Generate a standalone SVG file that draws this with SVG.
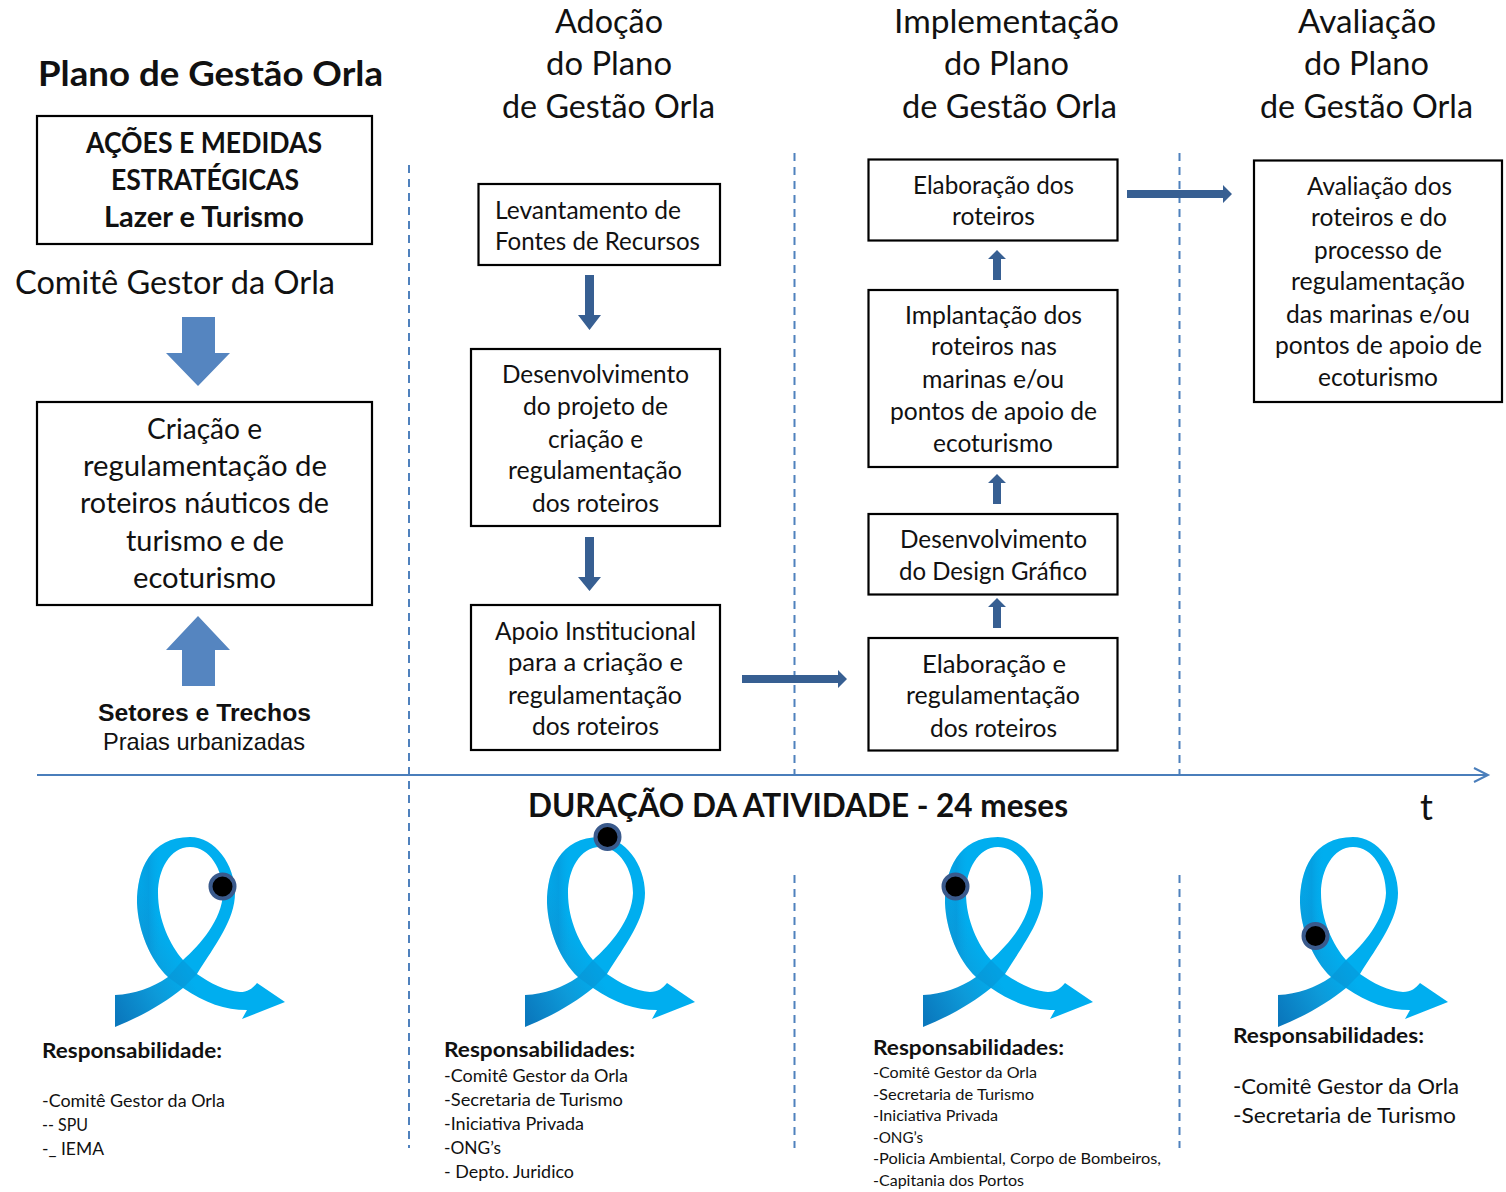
<svg xmlns="http://www.w3.org/2000/svg" width="1506" height="1192" viewBox="0 0 1506 1192">
<style>
text{font-family:Lato,"Liberation Sans",sans-serif;fill:#111}
.h{font-size:32px}
.b{font-size:28px;font-weight:700}
.m{font-size:28px}
.n{font-size:25px;transform:translateY(1px)}
.rb{font-size:21.500px;font-weight:700}
.r{font-size:17.500px}
.rs{font-size:15.500px;transform:translateY(1px)}
.rl{font-size:21.500px}
.box{fill:#fff;stroke:#000;stroke-width:2.2}
.ax{fill:#5585c0}
.ar{fill:#375f92}
.dash{fill:none;stroke:#4f81bd;stroke-width:2;stroke-dasharray:8 6}
.dot{fill:#000;stroke:#3a5a8c;stroke-width:4}
text.ar1{font-family:"Liberation Sans",Arial,sans-serif}
</style>
<defs>
<linearGradient id="rg" gradientUnits="userSpaceOnUse" x1="115" y1="1015" x2="190" y2="975">
<stop offset="0" stop-color="#0a78bd"/><stop offset="0.55" stop-color="#0d9ad9"/><stop offset="1" stop-color="#00aeef"/>
</linearGradient>
<linearGradient id="rs" gradientUnits="userSpaceOnUse" x1="137" y1="900" x2="160" y2="900">
<stop offset="0" stop-color="#0b8fd0" stop-opacity=".2"/><stop offset="0.5" stop-color="#0b88cc" stop-opacity=".4"/><stop offset="1" stop-color="#0ba0e0" stop-opacity="0"/>
</linearGradient>
<g id="ribbon">
<path fill="url(#rg)" fill-rule="evenodd" d="M115,995C135,994 152,988 168,977C150,960 138,930 137,903C137,870 150,837 190,837C215,837 235,865 235,893C235,920 215,945 197,974C210,983 225,991 240,992C248,992 253,988 257,983L285,1002L242,1019L247,1010C225,1010 205,1003 183,988C165,1003 140,1017 115,1027ZM183,960C200,945 222,920 223,893C223,870 210,847 190,847C170,847 158,870 158,893C158,920 170,945 183,960Z"/>
<path fill="url(#rs)" d="M137,903C137,870 150,845 175,840L178,850C165,855 158,875 158,893C158,920 170,945 183,960L168,977C150,960 138,930 137,903Z"/>
<path fill="#0b80c4" fill-opacity=".3" d="M168,977L183,960L197,974L183,988Z"/>
</g>
</defs>
<g id="connectors">
<path class="dash" d="M409,165V1148"/>
<path class="dash" d="M794.500,153V775M794.500,875V1148"/>
<path class="dash" d="M1179.500,153V775M1179.500,875V1148"/>
<path fill="none" stroke="#4a7ebb" stroke-width="2" d="M37,775H1488M1474,768L1488,775L1474,782"/>
<path class="ax" d="M182,317H215V353H230L198,386L166,353H182Z"/>
<path class="ax" d="M198,616L230,650H215V686H182V650H166Z"/>
<path class="ar" d="M585,275H594V315H601L589.500,330L578,315H585Z"/>
<path class="ar" d="M585,537H594V577H601L589.500,591L578,577H585Z"/>
<path class="ar" d="M742,675H838V670L847,679L838,688V683H742Z"/>
<path class="ar" d="M1127,190H1223V185L1232,194L1223,203V198H1127Z"/>
<path class="ar" d="M997,598L1006,607H1001V628H993V607H988Z"/>
<path class="ar" d="M997,474L1006,483H1001V504H993V483H988Z"/>
<path class="ar" d="M997,250L1006,259H1001V280H993V259H988Z"/>
</g>
<g id="titulo"><text class="b" style="font-size:35px" x="38" y="86" textLength="345" lengthAdjust="spacingAndGlyphs">Plano de Gestão Orla</text></g>
<g id="h-adocao">
<text class="h" x="555" y="33" textLength="108" lengthAdjust="spacingAndGlyphs">Adoção</text>
<text class="h" x="546" y="75" textLength="126" lengthAdjust="spacingAndGlyphs">do Plano</text>
<text class="h" x="502" y="118" textLength="213" lengthAdjust="spacingAndGlyphs">de Gestão Orla</text>
</g>
<g id="h-impl">
<text class="h" x="894" y="33" textLength="225" lengthAdjust="spacingAndGlyphs">Implementação</text>
<text class="h" x="944" y="75" textLength="125" lengthAdjust="spacingAndGlyphs">do Plano</text>
<text class="h" x="902" y="118" textLength="215" lengthAdjust="spacingAndGlyphs">de Gestão Orla</text>
</g>
<g id="h-aval">
<text class="h" x="1298" y="33" textLength="138" lengthAdjust="spacingAndGlyphs">Avaliação</text>
<text class="h" x="1304" y="75" textLength="125" lengthAdjust="spacingAndGlyphs">do Plano</text>
<text class="h" x="1260" y="118" textLength="213" lengthAdjust="spacingAndGlyphs">de Gestão Orla</text>
</g>
<g id="acoes">
<rect class="box" x="37" y="116" width="335" height="128"/>
<text class="b" x="86" y="153" textLength="236" lengthAdjust="spacingAndGlyphs">AÇÕES E MEDIDAS</text>
<text class="b" x="111" y="190" textLength="188" lengthAdjust="spacingAndGlyphs">ESTRATÉGICAS</text>
<text class="b" x="104" y="227" textLength="200" lengthAdjust="spacingAndGlyphs">Lazer e Turismo</text>
</g>
<g id="comite"><text class="h" x="15" y="294" textLength="320" lengthAdjust="spacingAndGlyphs">Comitê Gestor da Orla</text></g>
<g id="criacao">
<rect class="box" x="37" y="402" width="335" height="203"/>
<text class="m" x="147" y="439" textLength="115" lengthAdjust="spacingAndGlyphs">Criação e</text>
<text class="m" x="83" y="476" textLength="244" lengthAdjust="spacingAndGlyphs">regulamentação de</text>
<text class="m" x="80" y="513" textLength="249" lengthAdjust="spacingAndGlyphs">roteiros náuticos de</text>
<text class="m" x="126" y="551" textLength="158" lengthAdjust="spacingAndGlyphs">turismo e de</text>
<text class="m" x="133" y="588" textLength="143" lengthAdjust="spacingAndGlyphs">ecoturismo</text>
</g>
<g id="setores">
<text class="ar1" style="font-size:24px;font-weight:700" x="98" y="721" textLength="213" lengthAdjust="spacingAndGlyphs">Setores e Trechos</text>
<text class="ar1" style="font-size:24px" x="103" y="750" textLength="202" lengthAdjust="spacingAndGlyphs">Praias urbanizadas</text>
</g>
<g id="levantamento">
<rect class="box" x="478.500" y="184" width="241.500" height="81"/>
<text class="n" x="495" y="218" textLength="186" lengthAdjust="spacingAndGlyphs">Levantamento de</text>
<text class="n" x="495" y="249" textLength="205" lengthAdjust="spacingAndGlyphs">Fontes de Recursos</text>
</g>
<g id="desenv-projeto">
<rect class="box" x="471" y="349" width="249" height="177"/>
<text class="n" x="502" y="382" textLength="187" lengthAdjust="spacingAndGlyphs">Desenvolvimento</text>
<text class="n" x="523" y="414" textLength="145" lengthAdjust="spacingAndGlyphs">do projeto de</text>
<text class="n" x="548" y="447" textLength="95" lengthAdjust="spacingAndGlyphs">criação e</text>
<text class="n" x="508" y="478" textLength="174" lengthAdjust="spacingAndGlyphs">regulamentação</text>
<text class="n" x="532" y="511" textLength="127" lengthAdjust="spacingAndGlyphs">dos roteiros</text>
</g>
<g id="apoio">
<rect class="box" x="471" y="605" width="249" height="145"/>
<text class="n" x="495" y="639" textLength="201" lengthAdjust="spacingAndGlyphs">Apoio Institucional</text>
<text class="n" x="508" y="670" textLength="175" lengthAdjust="spacingAndGlyphs">para a criação e</text>
<text class="n" x="508" y="703" textLength="174" lengthAdjust="spacingAndGlyphs">regulamentação</text>
<text class="n" x="532" y="734" textLength="127" lengthAdjust="spacingAndGlyphs">dos roteiros</text>
</g>
<g id="elab-roteiros">
<rect class="box" x="868.500" y="159.500" width="249" height="81"/>
<text class="n" x="913" y="193" textLength="161" lengthAdjust="spacingAndGlyphs">Elaboração dos</text>
<text class="n" x="952" y="224" textLength="83" lengthAdjust="spacingAndGlyphs">roteiros</text>
</g>
<g id="implantacao">
<rect class="box" x="868.500" y="290" width="249" height="177"/>
<text class="n" x="905" y="323" textLength="177" lengthAdjust="spacingAndGlyphs">Implantação dos</text>
<text class="n" x="931" y="354" textLength="126" lengthAdjust="spacingAndGlyphs">roteiros nas</text>
<text class="n" x="922" y="387" textLength="142" lengthAdjust="spacingAndGlyphs">marinas e/ou</text>
<text class="n" x="890" y="419" textLength="207" lengthAdjust="spacingAndGlyphs">pontos de apoio de</text>
<text class="n" x="933" y="451" textLength="120" lengthAdjust="spacingAndGlyphs">ecoturismo</text>
</g>
<g id="design">
<rect class="box" x="868.500" y="514" width="249" height="80.500"/>
<text class="n" x="900" y="547" textLength="187" lengthAdjust="spacingAndGlyphs">Desenvolvimento</text>
<text class="n" x="899" y="579" textLength="188" lengthAdjust="spacingAndGlyphs">do Design Gráfico</text>
</g>
<g id="elab-reg">
<rect class="box" x="868.500" y="638" width="249" height="112.500"/>
<text class="n" x="922" y="672" textLength="144" lengthAdjust="spacingAndGlyphs">Elaboração e</text>
<text class="n" x="906" y="703" textLength="174" lengthAdjust="spacingAndGlyphs">regulamentação</text>
<text class="n" x="930" y="736" textLength="127" lengthAdjust="spacingAndGlyphs">dos roteiros</text>
</g>
<g id="avaliacao">
<rect class="box" x="1254" y="160.500" width="248" height="241.500"/>
<text class="n" x="1307" y="194" textLength="145" lengthAdjust="spacingAndGlyphs">Avaliação dos</text>
<text class="n" x="1311" y="225" textLength="136" lengthAdjust="spacingAndGlyphs">roteiros e do</text>
<text class="n" x="1314" y="258" textLength="128" lengthAdjust="spacingAndGlyphs">processo de</text>
<text class="n" x="1291" y="289" textLength="174" lengthAdjust="spacingAndGlyphs">regulamentação</text>
<text class="n" x="1286" y="322" textLength="184" lengthAdjust="spacingAndGlyphs">das marinas e/ou</text>
<text class="n" x="1275" y="353" textLength="207" lengthAdjust="spacingAndGlyphs">pontos de apoio de</text>
<text class="n" x="1318" y="385" textLength="120" lengthAdjust="spacingAndGlyphs">ecoturismo</text>
</g>
<g id="duracao">
<text class="b" style="font-size:32px" x="528" y="817" textLength="540" lengthAdjust="spacingAndGlyphs">DURAÇÃO DA ATIVIDADE - 24 meses</text>
<text style="font-size:36px" x="1420" y="820">t</text>
</g>
<g id="fita-1"><use href="#ribbon"/><circle class="dot" cx="222.500" cy="886.500" r="12"/></g>
<g id="fita-2"><use href="#ribbon" x="410"/><circle class="dot" cx="607.500" cy="837" r="12"/></g>
<g id="fita-3"><use href="#ribbon" x="808"/><circle class="dot" cx="955.500" cy="886.500" r="12"/></g>
<g id="fita-4"><use href="#ribbon" x="1163"/><circle class="dot" cx="1315.500" cy="936" r="12"/></g>
<g id="resp-1">
<text class="rb" x="42" y="1058" textLength="180" lengthAdjust="spacingAndGlyphs">Responsabilidade:</text>
<text class="r" x="42" y="1107" textLength="183" lengthAdjust="spacingAndGlyphs">-Comitê Gestor da Orla</text>
<text class="r" x="42" y="1131" textLength="46" lengthAdjust="spacingAndGlyphs">-- SPU</text>
<text class="r" x="42" y="1155" textLength="62" lengthAdjust="spacingAndGlyphs">-_ IEMA</text>
</g>
<g id="resp-2">
<text class="rb" x="444" y="1057" textLength="191" lengthAdjust="spacingAndGlyphs">Responsabilidades:</text>
<text class="r" x="444" y="1082" textLength="184" lengthAdjust="spacingAndGlyphs">-Comitê Gestor da Orla</text>
<text class="r" x="444" y="1106" textLength="179" lengthAdjust="spacingAndGlyphs">-Secretaria de Turismo</text>
<text class="r" x="444" y="1130" textLength="140" lengthAdjust="spacingAndGlyphs">-Iniciativa Privada</text>
<text class="r" x="444" y="1154" textLength="57" lengthAdjust="spacingAndGlyphs">-ONG’s</text>
<text class="r" x="444" y="1178" textLength="130" lengthAdjust="spacingAndGlyphs">- Depto. Juridico</text>
</g>
<g id="resp-3">
<text class="rb" x="873" y="1055" textLength="191" lengthAdjust="spacingAndGlyphs">Responsabilidades:</text>
<text class="rs" x="873" y="1077" textLength="164" lengthAdjust="spacingAndGlyphs">-Comitê Gestor da Orla</text>
<text class="rs" x="873" y="1099" textLength="161" lengthAdjust="spacingAndGlyphs">-Secretaria de Turismo</text>
<text class="rs" x="873" y="1120" textLength="125" lengthAdjust="spacingAndGlyphs">-Iniciativa Privada</text>
<text class="rs" x="873" y="1142" textLength="50" lengthAdjust="spacingAndGlyphs">-ONG’s</text>
<text class="rs" x="873" y="1163" textLength="288" lengthAdjust="spacingAndGlyphs">-Policia Ambiental, Corpo de Bombeiros,</text>
<text class="rs" x="873" y="1185" textLength="151" lengthAdjust="spacingAndGlyphs">-Capitania dos Portos</text>
</g>
<g id="resp-4">
<text class="rb" x="1233" y="1043" textLength="191" lengthAdjust="spacingAndGlyphs">Responsabilidades:</text>
<text class="rl" x="1233" y="1094" textLength="226" lengthAdjust="spacingAndGlyphs">-Comitê Gestor da Orla</text>
<text class="rl" x="1233" y="1123" textLength="223" lengthAdjust="spacingAndGlyphs">-Secretaria de Turismo</text>
</g>
</svg>
